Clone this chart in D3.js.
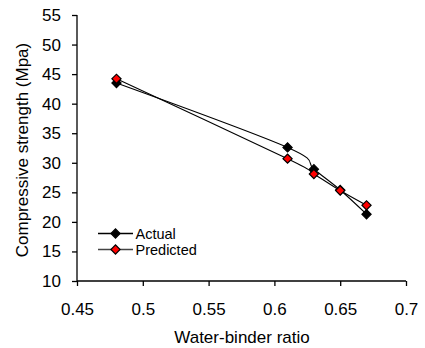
<!DOCTYPE html>
<html>
<head>
<meta charset="utf-8">
<script src="https://cdn.jsdelivr.net/npm/d3@7"></script>
<style>
body { margin: 0; background: #fff; }
text { font-family: Arial, "Liberation Sans", sans-serif; fill: #000; }
</style>
</head>
<body>
<script>
var width = 425, height = 348;

// chart values
var ratios = [0.48, 0.61, 0.63, 0.65, 0.67];
var actual = [43.5, 32.6, 28.9, 25.4, 21.3];
var predicted = [44.2, 30.7, 28.1, 25.3, 22.8];
var xTicks = [0.45, 0.5, 0.55, 0.6, 0.65, 0.7];
var yTicks = [10, 15, 20, 25, 30, 35, 40, 45, 50, 55];

var series = [
    { name: "Actual", values: actual, fill: "#000" },
    { name: "Predicted", values: predicted, fill: "#ff0000" }
];

var svg = d3.select("body").append("svg")
    .attr("width", width)
    .attr("height", height);

var x = d3.scaleLinear().domain([0.45, 0.7]).range([77, 406]);
var y = d3.scaleLinear().domain([10, 55]).range([281, 15]);

// axes
var xAxis = svg.append("g")
    .attr("transform", "translate(0," + y(10) + ")")
    .call(d3.axisBottom(x).tickValues(xTicks).tickSize(5).tickPadding(17)
        .tickFormat(function(d){ return String(+d.toFixed(2)); }));
var yAxis = svg.append("g")
    .attr("transform", "translate(" + x(0.45) + ",0)")
    .call(d3.axisLeft(y).tickValues(yTicks).tickSize(5).tickPadding(11));

[xAxis, yAxis].forEach(function(a){
    a.select(".domain").attr("stroke", "#000").attr("stroke-width", 1.3);
    a.selectAll(".tick line").attr("stroke", "#000").attr("stroke-width", 1.3);
    a.selectAll(".tick text").attr("font-size", 17).attr("font-family", "Arial, 'Liberation Sans', sans-serif");
});
xAxis.select(".domain").attr("d", "M" + x(0.45) + ",0H" + x(0.7));
yAxis.select(".domain").attr("d", "M0," + y(10) + "V" + y(55));

// axis titles
svg.append("text")
    .attr("x", 242).attr("y", 343)
    .attr("text-anchor", "middle")
    .attr("font-size", 17)
    .text("Water-binder ratio");

svg.append("text")
    .attr("transform", "translate(28,150) rotate(-90)")
    .attr("text-anchor", "middle")
    .attr("font-size", 17)
    .text("Compressive strength (Mpa)");

// smoothed lines, like the spreadsheet
var line = d3.line()
    .x(function(d, i){ return x(ratios[i]); })
    .y(function(d){ return y(d); })
    .curve(d3.curveCardinal.tension(0));

var diamondSq = d3.symbol().type(d3.symbolSquare).size(42);

series.forEach(function(s){
    svg.append("path")
        .attr("d", line(s.values))
        .attr("fill", "none")
        .attr("stroke", "#000")
        .attr("stroke-width", 1.1);
});

series.forEach(function(s){
    svg.selectAll(null)
        .data(s.values)
        .enter().append("path")
        .attr("d", diamondSq())
        .attr("transform", function(d, i){ return "translate(" + x(ratios[i]) + "," + y(d) + ") rotate(45)"; })
        .attr("fill", s.fill)
        .attr("stroke", "#000")
        .attr("stroke-width", 1.2);
});

// legend
var legend = svg.append("g");
series.forEach(function(s, i){
    var ly = 233.5 + i * 16;
    legend.append("line")
        .attr("x1", 98).attr("x2", 133)
        .attr("y1", ly).attr("y2", ly)
        .attr("stroke", i ? "#444" : "#000")
        .attr("stroke-width", 1.3);
    legend.append("path")
        .attr("d", diamondSq())
        .attr("transform", "translate(115.5," + ly + ") rotate(45)")
        .attr("fill", s.fill)
        .attr("stroke", "#000")
        .attr("stroke-width", 1.2);
    legend.append("text")
        .attr("x", 135.5).attr("y", ly + 5)
        .attr("font-size", 14.5)
        .text(s.name);
});
</script>
</body>
</html>
